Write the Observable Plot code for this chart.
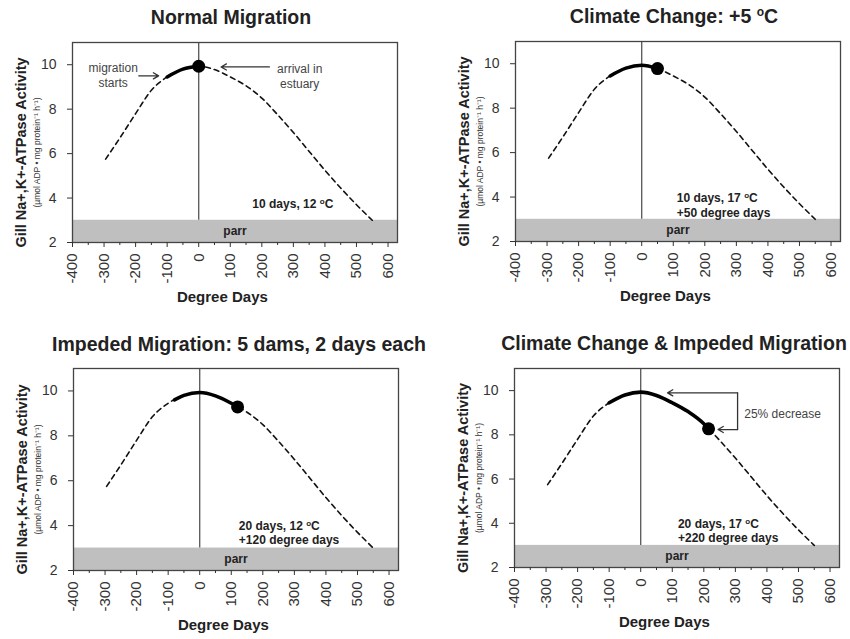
<!DOCTYPE html>
<html><head><meta charset="utf-8">
<script src="https://cdn.jsdelivr.net/npm/d3@7"></script>
<script src="https://cdn.jsdelivr.net/npm/@observablehq/plot@0.6"></script>
<style>
html,body{margin:0;padding:0;background:#fff;}
#wrap{position:relative;width:850px;height:639px;overflow:hidden;font-family:"Liberation Sans",Arial,sans-serif;background:#fff;}
.title{position:absolute;width:460px;text-align:center;font-weight:bold;font-size:19.5px;line-height:22px;color:#222;white-space:nowrap;}
.title sup{font-size:12px;vertical-align:7px;line-height:0;}
.panel{position:absolute;}
</style></head><body><div id="wrap"></div>
<script>
// ---------- data ----------
const panelTitles = ["Normal Migration", "Climate Change: +5 ºC", "Impeded Migration: 5 dams, 2 days each", "Climate Change & Impeded Migration"];
const degreeDays = [-295, -250, -200, -150, -100, -50, 0, 50, 100, 150, 200, 250, 300, 350, 400, 450, 500, 550];
const activity   = [5.75, 6.7, 7.8, 8.85, 9.45, 9.8, 9.93, 9.78, 9.45, 9.05, 8.5, 7.75, 6.95, 6.1, 5.25, 4.45, 3.7, 3.0];
const startDD       = [-100, -100, -80, -100];
const startActivity = [9.45, 9.45, 9.6, 9.45];
const arrivalDD       = [0, 50, 120, 215];
const arrivalActivity = [9.93, 9.78, 9.29, 8.27];
const noteText = ["10 days, 12 ºC", "10 days, 17 ºC\n+50 degree days", "20 days, 12 ºC\n+120 degree days", "20 days, 17 ºC\n+220 degree days"];
const noteX = [170, 111, 124, 118];
const noteY = [3.77, 3.65, 3.7, 3.69];
const parrLow = 2, parrHigh = 3;
const xDomain = [-400, 630];
const yDomain = [2, 11];
const xTicks = [-400, -300, -200, -100, 0, 100, 200, 300, 400, 500, 600];
const xMinorTicks = [-350, -250, -150, -50, 50, 150, 250, 350, 450, 550];
const yTicks = [2, 4, 6, 8, 10];
const yLabel = "Gill Na+,K+-ATPase Activity";
const yUnits = "(µmol ADP • mg protein⁻¹ h⁻¹)";
const xLabel = "Degree Days";
// panel 1 annotations
const annoLabels = ["migration\nstarts", "arrival in\nestuary"];
const annoLabelX = [-271, 320];
const annoLabelY = [9.54, 9.51];
const annoArrowX1 = [-190, 224], annoArrowX2 = [-127, 71];
const annoArrowY = [9.5, 9.9];
// panel 4 bracket
const decreaseLabel = "25% decrease";
const bracketX = 307;
const bracketTopY = 9.9, bracketBottomY = 8.24;
const bracketTopArrowEnd = 85, bracketBottomArrowEnd = 245;
const decreaseLabelX = 328, decreaseLabelY = 8.93;

// ---------- layout ----------
const layout = [
  {left:0,   top:0,   width:425, height:310, mL:72, mR:28, mT:42, mB:68, tx:231, tt:6},
  {left:425, top:0,   width:425, height:310, mL:90, mR:10, mT:41, mB:69, tx:674, tt:5},
  {left:0,   top:320, width:425, height:319, mL:73, mR:27, mT:48, mB:69, tx:239, tt:333},
  {left:425, top:320, width:425, height:319, mL:89, mR:11, mT:48, mB:72, tx:674, tt:332}
];

const curve = degreeDays.map((x, i) => ({x, y: activity[i]}));
const wrap = document.getElementById("wrap");
const ns = "http://www.w3.org/2000/svg";

function superscriptDegrees(svg) {
  svg.querySelectorAll("text, tspan").forEach(el => {
    if (el.children.length) return;
    const t = el.textContent;
    const i = t.indexOf("ºC");
    if (i < 0) return;
    el.textContent = "";
    el.appendChild(document.createTextNode(t.slice(0, i)));
    const sup = document.createElementNS(ns, "tspan");
    sup.setAttribute("dy", "-4");
    sup.setAttribute("font-size", "8");
    sup.textContent = "o";
    const rest = document.createElementNS(ns, "tspan");
    rest.setAttribute("dy", "4");
    rest.textContent = t.slice(i + 1);
    el.appendChild(sup);
    el.appendChild(rest);
  });
}

layout.forEach((L, p) => {
  const seg = [{x: startDD[p], y: startActivity[p]}]
    .concat(curve.filter(d => d.x > startDD[p] && d.x < arrivalDD[p]))
    .concat([{x: arrivalDD[p], y: arrivalActivity[p]}]);

  const marks = [
    Plot.rect([{x1: xDomain[0], x2: xDomain[1], y1: parrLow, y2: parrHigh}], {x1: "x1", x2: "x2", y1: "y1", y2: "y2", fill: "#c0bfc0"}),
    Plot.text(["parr"], {x: (xDomain[0] + xDomain[1]) / 2, y: (parrLow + parrHigh) / 2, fontWeight: "bold", fontSize: 12, fill: "#222"}),
    Plot.ruleX([0], {y1: parrHigh, y2: yDomain[1], stroke: "#555", strokeWidth: 1.3}),
    Plot.line(curve, {x: "x", y: "y", curve: "monotone-x", stroke: "#111", strokeWidth: 1.6, strokeDasharray: "5,4"}),
    Plot.line(seg, {x: "x", y: "y", curve: "monotone-x", stroke: "#000", strokeWidth: 3.6}),
    Plot.dot([{x: arrivalDD[p], y: arrivalActivity[p]}], {x: "x", y: "y", r: 6.5, fill: "#000", stroke: "none"}),
    Plot.text([noteText[p]], {x: noteX[p], y: noteY[p], textAnchor: "start", fontWeight: "bold", fontSize: 12, lineHeight: 1.22, fill: "#222"}),
    Plot.frame({stroke: "#444", strokeWidth: 1.3}),
    Plot.axisX(xTicks, {tickSize: 5, tickPadding: 6, tickRotate: -90, fontSize: 15, label: null, stroke: "#333", fill: "#333", tickFormat: d => String(d)}),
    Plot.axisX(xMinorTicks, {tickSize: 3, text: null, label: null, stroke: "#333"}),
    Plot.axisY(yTicks, {tickSize: 5, tickPadding: 11, fontSize: 14, label: null, stroke: "#333", fill: "#333", tickFormat: d => String(d)}),
    Plot.text([yLabel], {frameAnchor: "left", textAnchor: "middle", dx: -51, dy: 10, rotate: -90, fontWeight: "bold", fontSize: 14.5, fill: "#222"}),
    Plot.text([yUnits], {frameAnchor: "left", textAnchor: "middle", dx: -35, dy: 10, rotate: -90, fontSize: 8.5, fill: "#333"}),
    Plot.text([xLabel], {x: 75, frameAnchor: "bottom", dy: 59, fontWeight: "bold", fontSize: 15, fill: "#222"})
  ];

  if (p === 0) {
    marks.push(
      Plot.text(annoLabels, {x: (d, i) => annoLabelX[i], y: (d, i) => annoLabelY[i], fontSize: 12, lineHeight: 1.25, fill: "#444"}),
      Plot.arrow(annoArrowX1, {x1: (d) => d, x2: (d, i) => annoArrowX2[i], y1: (d, i) => annoArrowY[i], y2: (d, i) => annoArrowY[i], stroke: "#333", strokeWidth: 1.3, headLength: 7})
    );
  }
  if (p === 3) {
    marks.push(
      Plot.line([{x: bracketX, y: bracketTopY}, {x: bracketX, y: bracketBottomY}], {x: "x", y: "y", stroke: "#333", strokeWidth: 1.3}),
      Plot.arrow([{x1: bracketX, x2: bracketTopArrowEnd, y: bracketTopY}, {x1: bracketX, x2: bracketBottomArrowEnd, y: bracketBottomY}], {x1: "x1", x2: "x2", y1: "y", y2: "y", stroke: "#333", strokeWidth: 1.3, headLength: 7}),
      Plot.text([decreaseLabel], {x: decreaseLabelX, y: decreaseLabelY, textAnchor: "start", fontSize: 12, fill: "#444"})
    );
  }

  const chart = Plot.plot({
    width: L.width, height: L.height,
    marginLeft: L.mL, marginRight: L.mR, marginTop: L.mT, marginBottom: L.mB,
    x: {domain: xDomain, label: null},
    y: {domain: yDomain, label: null},
    style: {fontFamily: "'Liberation Sans', Arial, sans-serif", fontSize: "14px", color: "#333", background: "transparent", overflow: "visible"},
    marks
  });
  superscriptDegrees(chart);
  const div = document.createElement("div");
  div.className = "panel";
  div.style.left = L.left + "px";
  div.style.top = L.top + "px";
  div.appendChild(chart);
  wrap.appendChild(div);

  const t = document.createElement("div");
  t.className = "title";
  t.style.left = (L.tx - 230) + "px";
  t.style.top = L.tt + "px";
  t.innerHTML = panelTitles[p].replace("ºC", "<sup>o</sup>C");
  wrap.appendChild(t);
});
</script></body></html>
